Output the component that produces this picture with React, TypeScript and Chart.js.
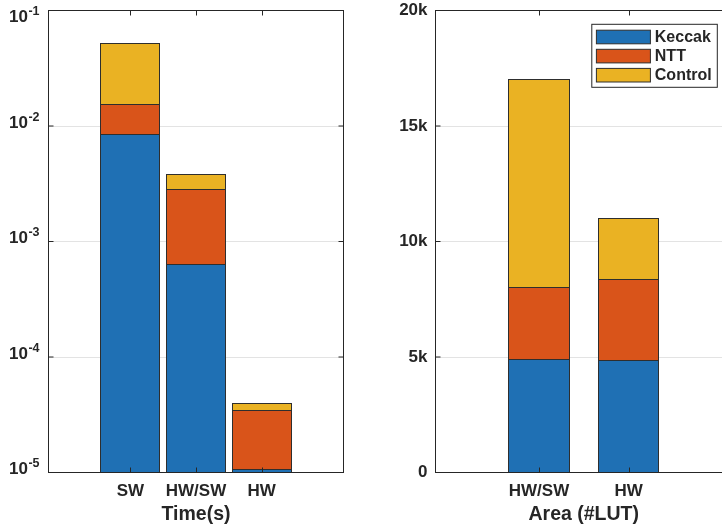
import React, { useEffect, useRef } from 'react';
import { Chart, registerables } from 'chart.js';

Chart.register(...registerables);

// ---------- data ----------
const SERIES = ['Keccak', 'NTT', 'Control'];
const COLORS = ['#1f70b4', '#d9541a', '#eab223'];

const timeCategories = ['SW', 'HW/SW', 'HW'];
const timeKeccak = [8.5e-3, 6.35e-4, 1.06e-5];
const timeNTT = [7.0e-3, 2.185e-3, 2.38e-5];
const timeControl = [3.63e-2, 9.9e-4, 5.0e-6];
const timeTicks = [1e-5, 1e-4, 1e-3, 1e-2, 1e-1];

const areaCategories = ['HW/SW', 'HW'];
const areaKeccak = [4900, 4830];
const areaNTT = [3100, 3520];
const areaControl = [9000, 2650];
const areaTicks = [0, 5000, 10000, 15000, 20000];

// ---------- styles ----------
const TEXT = '#262626';
const GRID = '#e3e3e3';
const EDGE = '#2e2e2e';
const FONT = '"Liberation Sans", Arial, Helvetica, sans-serif';

const edgePlugin = {
  id: 'barEdges',
  afterDatasetsDraw(chart: any) {
    const ctx = chart.ctx;
    ctx.save();
    ctx.strokeStyle = EDGE;
    ctx.lineWidth = 1;
    chart.getSortedVisibleDatasetMetas().forEach((meta: any) => {
      meta.data.forEach((el: any) => {
        const { x, y, base, width } = el.getProps(['x', 'y', 'base', 'width'], true);
        const l = Math.floor(x - width / 2) + 0.5;
        const r = Math.floor(x + width / 2) + 0.5;
        const t = Math.floor(Math.min(y, base)) + 0.5;
        const b = Math.floor(Math.max(y, base)) + 0.5;
        ctx.strokeRect(l, t, r - l, b - t);
      });
    });
    ctx.restore();
  },
};

const framePlugin = {
  id: 'frame',
  afterDatasetsDraw(chart: any) {
    const { ctx, chartArea: a, scales } = chart;
    const x = scales.x;
    const y = scales.y;
    ctx.save();
    ctx.strokeStyle = TEXT;
    ctx.lineWidth = 1;
    ctx.strokeRect(a.left, a.top, a.right - a.left, a.bottom - a.top);
    ctx.beginPath();
    const L = 5;
    x.ticks.forEach((t: any) => {
      const px = Math.round(x.getPixelForValue(t.value)) + 0.5;
      ctx.moveTo(px, a.bottom);
      ctx.lineTo(px, a.bottom - L);
      ctx.moveTo(px, a.top);
      ctx.lineTo(px, a.top + L);
    });
    y.ticks.forEach((t: any) => {
      const py = y.getPixelForValue(t.value);
      ctx.moveTo(a.left, py);
      ctx.lineTo(a.left + L, py);
      ctx.moveTo(a.right, py);
      ctx.lineTo(a.right - L, py);
    });
    ctx.stroke();
    ctx.restore();
  },
};

const logLabelPlugin = {
  id: 'logLabels',
  afterDraw(chart: any) {
    const { ctx, chartArea: a, scales } = chart;
    const y = scales.y;
    ctx.save();
    ctx.fillStyle = TEXT;
    ctx.textAlign = 'right';
    ctx.textBaseline = 'alphabetic';
    y.ticks.forEach((t: any) => {
      const py = y.getPixelForValue(t.value);
      const exp = String(Math.round(Math.log10(t.value)));
      const xr = a.left - 9;
      const base = Math.max(py + 1.5, 22);
      ctx.font = `bold 12.5px ${FONT}`;
      const ew = ctx.measureText(exp).width;
      ctx.fillText(exp, xr, base - 7);
      ctx.font = `bold 17px ${FONT}`;
      ctx.fillText('10', xr - ew - 0.5, base);
    });
    ctx.restore();
  },
};

const legendPlugin = {
  id: 'boxLegend',
  afterDraw(chart: any) {
    const { ctx, chartArea: a } = chart;
    const w = 125.5;
    const h = 63;
    const right = a.right - 14.7;
    const left = right - w;
    const top = a.top + 13.8;
    ctx.save();
    ctx.fillStyle = '#ffffff';
    ctx.fillRect(left, top, w, h);
    ctx.strokeStyle = TEXT;
    ctx.lineWidth = 1;
    ctx.strokeRect(left, top, w, h);
    ctx.font = `bold 16px ${FONT}`;
    ctx.textBaseline = 'middle';
    ctx.textAlign = 'left';
    chart.data.datasets.forEach((ds: any, i: number) => {
      const cy = top + 12.7 + i * 19.1;
      ctx.fillStyle = ds.backgroundColor;
      ctx.fillRect(left + 4.6, cy - 6.8, 54, 13.6);
      ctx.strokeStyle = EDGE;
      ctx.strokeRect(left + 4.6, cy - 6.8, 54, 13.6);
      ctx.fillStyle = TEXT;
      ctx.fillText(ds.label, left + 63, cy + 0.5);
    });
    ctx.restore();
  },
};

function makeDatasets(values: number[][], barPct: number) {
  return SERIES.map((name, s) => ({
    label: name,
    data: values[s].map((v, i) => ({ x: i + 1, y: v })),
    backgroundColor: COLORS[s],
    borderWidth: 0,
    borderSkipped: false,
    barPercentage: barPct,
    categoryPercentage: 1,
  }));
}

function xScale(cats: string[], min: number, max: number, title: string) {
  return {
    type: 'linear',
    min,
    max,
    offset: false,
    bounds: 'data',
    stacked: true,
    afterBuildTicks: (scale: any) => {
      scale.ticks = cats.map((_, i) => ({ value: i + 1 }));
    },
    afterFit: (scale: any) => {
      scale.height = 57.5;
      scale.paddingLeft = 0;
      scale.paddingRight = 0;
    },
    ticks: {
      callback: (v: number) => cats[Math.round(v) - 1] ?? '',
      font: { family: FONT, size: 17, weight: 'bold' },
      color: TEXT,
      padding: 9,
      maxRotation: 0,
      autoSkip: false,
    },
    grid: { display: false, drawTicks: false, offset: false },
    border: { display: false },
    title: {
      display: true,
      text: title,
      font: { family: FONT, size: 19.5, weight: 'bold' },
      color: TEXT,
      padding: { top: 0, bottom: 3.5 },
    },
  };
}

function TimeChart() {
  const ref = useRef<HTMLCanvasElement | null>(null);
  useEffect(() => {
    if (!ref.current) return;
    const chart = new Chart(ref.current, {
      type: 'bar',
      data: { datasets: makeDatasets([timeKeccak, timeNTT, timeControl], 0.9) as any },
      options: {
        animation: false,
        responsive: false,
        devicePixelRatio: 1,
        layout: { padding: { left: 0, top: 10.5, right: 17.5, bottom: 0 } },
        plugins: { legend: { display: false }, tooltip: { enabled: false } },
        scales: {
          x: xScale(timeCategories, -0.25, 4.25, 'Time(s)') as any,
          y: {
            type: 'logarithmic',
            min: timeTicks[0],
            max: timeTicks[timeTicks.length - 1],
            stacked: true,
            afterBuildTicks: (scale: any) => {
              scale.ticks = timeTicks.map((v) => ({ value: v, major: true }));
            },
            afterFit: (scale: any) => {
              scale.width = 48.5;
              scale.paddingTop = 0;
              scale.paddingBottom = 0;
            },
            ticks: { display: false },
            grid: { color: GRID, drawTicks: false, lineWidth: 1 },
            border: { display: false },
          } as any,
        },
      },
      plugins: [edgePlugin, framePlugin, logLabelPlugin],
    });
    return () => chart.destroy();
  }, []);
  return (
    <canvas
      ref={ref}
      width={361}
      height={530}
      style={{ position: 'absolute', left: 0, top: 0, width: 361, height: 530 }}
    />
  );
}

function AreaChart() {
  const ref = useRef<HTMLCanvasElement | null>(null);
  useEffect(() => {
    if (!ref.current) return;
    const chart = new Chart(ref.current, {
      type: 'bar',
      data: { datasets: makeDatasets([areaKeccak, areaNTT, areaControl], 0.68) as any },
      options: {
        animation: false,
        responsive: false,
        devicePixelRatio: 1,
        layout: { padding: { left: 0, top: 10.5, right: 19, bottom: 0 } },
        plugins: { legend: { display: false }, tooltip: { enabled: false } },
        scales: {
          x: xScale(areaCategories, -0.155, 3.155, 'Area (#LUT)') as any,
          y: {
            type: 'linear',
            min: areaTicks[0],
            max: areaTicks[areaTicks.length - 1],
            stacked: true,
            afterBuildTicks: (scale: any) => {
              scale.ticks = areaTicks.map((v) => ({ value: v }));
            },
            afterFit: (scale: any) => {
              scale.width = 74.5;
              scale.paddingTop = 0;
              scale.paddingBottom = 0;
            },
            ticks: {
              callback: (v: number) => (v === 0 ? '0' : `${v / 1000}k`),
              font: { family: FONT, size: 17, weight: 'bold' },
              color: TEXT,
              padding: 8,
            },
            grid: { color: GRID, drawTicks: false, lineWidth: 1 },
            border: { display: false },
          } as any,
        },
      },
      plugins: [edgePlugin, framePlugin, legendPlugin],
    });
    return () => chart.destroy();
  }, []);
  return (
    <canvas
      ref={ref}
      width={390}
      height={530}
      style={{ position: 'absolute', left: 361, top: 0, width: 390, height: 530 }}
    />
  );
}

export default function App() {
  return (
    <div
      style={{
        position: 'fixed',
        left: 0,
        top: 0,
        width: 722,
        height: 530,
        overflow: 'hidden',
        background: '#ffffff',
      }}
    >
      <TimeChart />
      <AreaChart />
    </div>
  );
}
